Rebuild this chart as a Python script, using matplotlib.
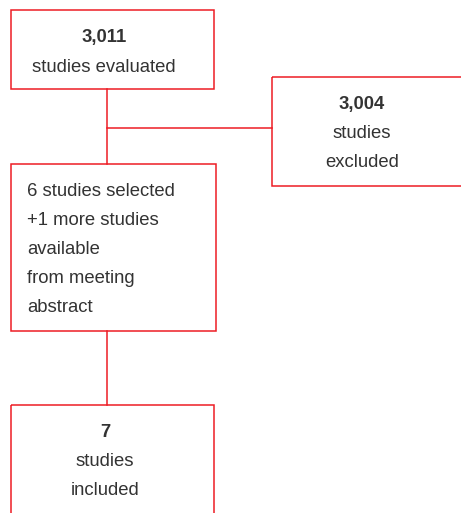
import matplotlib
matplotlib.use('Agg')
import matplotlib.pyplot as plt
from matplotlib.patches import Rectangle

# flowchart content
box_titles = ['3,011', '3,004', '', '7']
box_lines = [
    ['studies evaluated'],
    ['studies', 'excluded'],
    ['6 studies selected', '+1 more studies', 'available', 'from meeting', 'abstract'],
    ['studies', 'included'],
]

RED = '#ee1c25'
TXT = '#333333'
plt.rcParams['font.family'] = ['Liberation Sans', 'DejaVu Sans']

W, H = 461, 513
fig = plt.figure(figsize=(W / 100, H / 100), dpi=100)
ax = fig.add_axes([0, 0, 1, 1])
ax.set_xlim(0, W)
ax.set_ylim(H, 0)
ax.axis('off')

# box geometry: left, top, right, bottom (pixels)
boxes = [(11, 10, 214, 89), (272, 77, 470, 186), (11, 164, 216, 331), (11, 405, 214, 520)]
for l, t, r, b in boxes:
    ax.add_patch(Rectangle((l, t), r - l, b - t, fill=False, edgecolor=RED, lw=1.1))

# connectors
ax.plot([107, 107], [89, 164], color=RED, lw=1.1)
ax.plot([107, 272], [127.5, 127.5], color=RED, lw=1.1)
ax.plot([107, 107], [331, 405], color=RED, lw=1.1)

fs = 13.3
kw = dict(va='baseline', fontsize=fs, color=TXT)
# box 1
ax.text(104, 41.7, box_titles[0], ha='center', fontweight='bold', **kw)
ax.text(104, 72.3, box_lines[0][0], ha='center', **kw)
# box 2
ax.text(362, 109.3, box_titles[1], ha='center', fontweight='bold', **kw)
for i, s in enumerate(box_lines[1]):
    ax.text(362, 138 + 28.7 * i, s, ha='center', **kw)
# box 3
for i, s in enumerate(box_lines[2]):
    ax.text(27, 196 + 29 * i, s, ha='left', **kw)
# box 4
ax.text(105, 437, box_titles[3], ha='center', fontweight='bold', **kw)
for i, s in enumerate(box_lines[3]):
    ax.text(105, 465.7 + 29.3 * i, s, ha='center', **kw)

fig.savefig('out.png', dpi=100)
